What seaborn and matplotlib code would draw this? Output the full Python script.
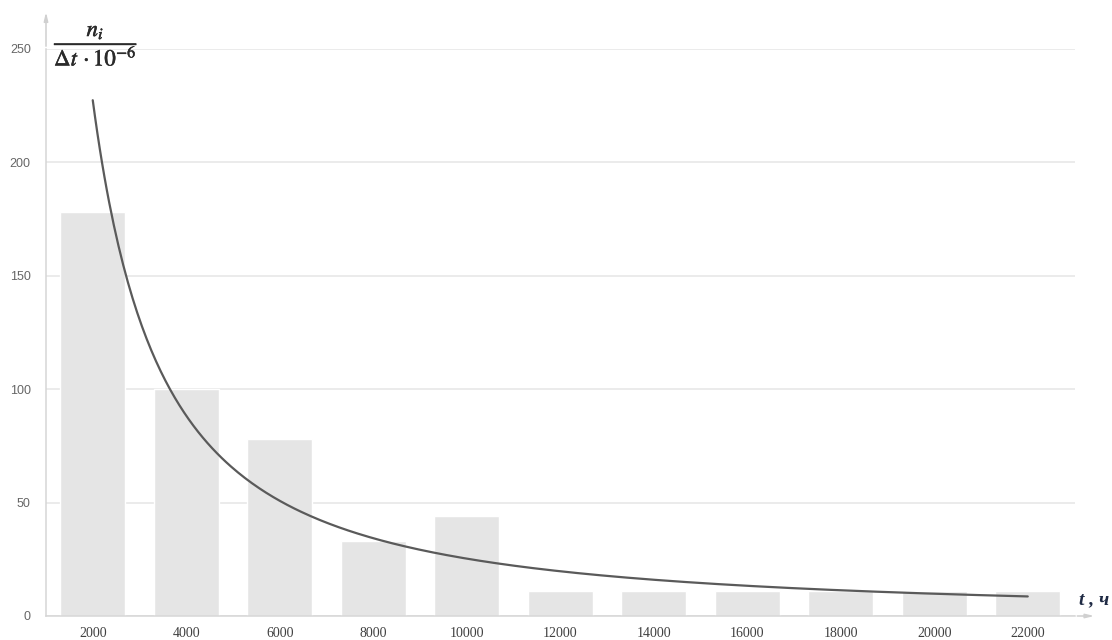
import numpy as np
import pandas as pd
import matplotlib
matplotlib.use("Agg")
import matplotlib.pyplot as plt
import matplotlib.patheffects as pe
import seaborn as sns

# Failure-rate histogram: interval end time (hours) and n_i / (Δt·10^-6)
hours = ["2000", "4000", "6000", "8000", "10000", "12000",
         "14000", "16000", "18000", "20000", "22000"]
rate = [178, 100, 78, 33, 44, 11, 11, 11, 11, 11, 11]
y_ticks = [0, 50, 100, 150, 200, 250]

df = pd.DataFrame({"t": hours, "rate": rate})

sns.set_style("white")
plt.rcParams["font.family"] = ["Liberation Sans", "DejaVu Sans"]
plt.rcParams["mathtext.fontset"] = "stix"

fig = plt.figure(figsize=(11.12, 6.4), dpi=100)
ax = fig.add_axes([46 / 1112, 1 - 616 / 640, (1074.5 - 46) / 1112, (616 - 49) / 640])

sns.barplot(data=df, x="t", y="rate", color="#e5e5e5", saturation=1,
            width=0.69, ax=ax, zorder=2)

# Power trendline fitted in log-log space over interval index 1..N
idx = np.arange(1, len(rate) + 1)
b, ln_a = np.polyfit(np.log(idx), np.log(rate), 1)
xs = np.linspace(1, len(rate), 400)
ax.plot(xs - 1, np.exp(ln_a) * xs ** b, color="#5a5a5a", lw=1.6, zorder=3,
        solid_capstyle="round")

ax.set_xlim(-0.5, len(hours) - 0.5)
ax.set_ylim(0, 250)
ax.set_yticks(y_ticks)
ax.yaxis.grid(True, color="#e6e6e6", lw=1.1, zorder=0)
ax.set_axisbelow(True)
ax.set_xlabel("")
ax.set_ylabel("")

for s in ["top", "right"]:
    ax.spines[s].set_visible(False)
for s in ["left", "bottom"]:
    ax.spines[s].set_color("#d6d6d6")
    ax.spines[s].set_linewidth(1.1)

# category boundary ticks on x, short ticks on y
ax.set_xticks(np.arange(len(hours)))
ax.set_xticklabels(hours, family="Liberation Serif", fontsize=10, color="#404040")
ax.set_xticks(np.arange(-0.5, len(hours), 1.0), minor=True)
ax.tick_params(axis="x", which="major", length=0, pad=8)
ax.tick_params(axis="x", which="minor", length=4, color="#d0d0d0", width=1)
ax.tick_params(axis="y", length=5, color="#d6d6d6", width=1, labelsize=9,
               labelcolor="#666666", pad=6)

# axis extensions with arrowheads
ax.annotate("", xy=(0, 1.07), xytext=(0, 1.0), xycoords="axes fraction",
            arrowprops=dict(arrowstyle="-|>,head_length=0.5,head_width=0.12",
                            color="#d0d0d0", lw=1.1), annotation_clip=False)
ax.annotate("", xy=(1.022, 0), xytext=(1.0, 0), xycoords="axes fraction",
            arrowprops=dict(arrowstyle="-|>,head_length=0.5,head_width=0.12",
                            color="#d0d0d0", lw=1.1), annotation_clip=False)

ylab = fig.text(96 / 1112, 1 - 46 / 640, r"$\dfrac{n_i}{\Delta t\,\cdot 10^{-6}}$",
                fontsize=16.5, color="#2a2a2a", ha="center", va="center")
ylab.set_path_effects([pe.withStroke(linewidth=0.35, foreground="#2a2a2a")])
fig.text(1094 / 1112, 1 - 600 / 640, "t , ч", family="Liberation Serif",
         style="italic", weight="bold", fontsize=14, color="#1f2a44",
         ha="center", va="center")

fig.savefig("out.png", dpi=100)
